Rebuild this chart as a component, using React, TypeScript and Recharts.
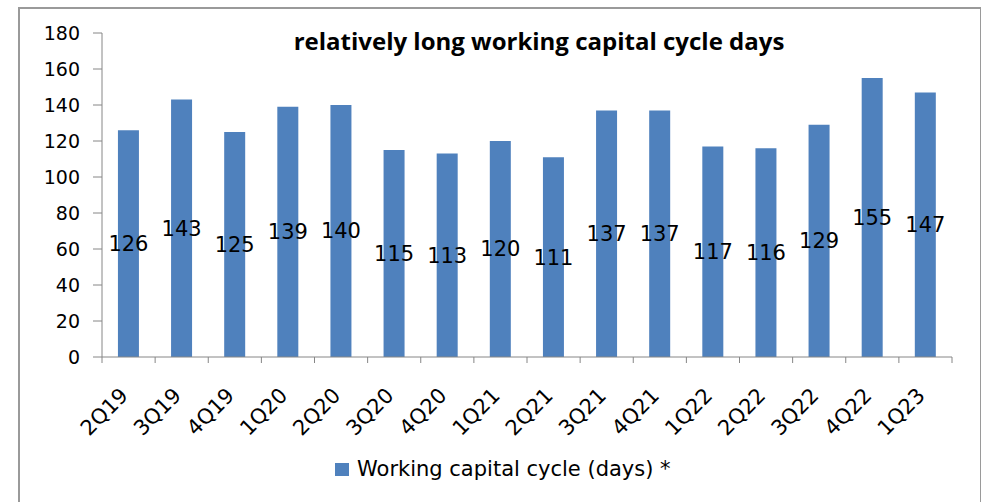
import React from 'react'
import { BarChart, Bar, XAxis, YAxis, Legend, LabelList } from 'recharts'

const quarters = ['2Q19', '3Q19', '4Q19', '1Q20', '2Q20', '3Q20', '4Q20', '1Q21', '2Q21', '3Q21', '4Q21', '1Q22', '2Q22', '3Q22', '4Q22', '1Q23']
const cycleDays = [126, 143, 125, 139, 140, 115, 113, 120, 111, 137, 137, 117, 116, 129, 155, 147]
const yTicks = [0, 20, 40, 60, 80, 100, 120, 140, 160, 180]
const seriesName = 'Working capital cycle (days) *'
const title = 'relatively long working capital cycle days'

const data = quarters.map((q, i) => ({ name: q, value: cycleDays[i] }))

const W = 981
const H = 502
const margin = { top: 33, right: 29, bottom: 18, left: 0 }
const axisW = 102
const half = (W - axisW - margin.right) / quarters.length / 2
const axisColor = '#868686'
const barColor = '#4F81BD'
const font = 'DejaVu Sans, sans-serif'

function XTick(props: any) {
  const { x, y, payload, index } = props
  const ay = y - 8
  const tx = x - 10
  const ty = y + 21
  return (
    <g>
      <line x1={x - half} y1={ay} x2={x - half} y2={ay + 6} stroke={axisColor} />
      {index === quarters.length - 1 && (
        <line x1={x + half} y1={ay} x2={x + half} y2={ay + 6} stroke={axisColor} />
      )}
      <text
        x={tx}
        y={ty}
        textAnchor="end"
        dominantBaseline="hanging"
        transform={`rotate(-45 ${tx} ${ty})`}
        fontSize={21}
        fontFamily={font}
        fill="#000"
      >
        {payload.value}
      </text>
    </g>
  )
}

function LegendBox() {
  return (
    <div style={{ display: 'flex', alignItems: 'center', marginLeft: 335, fontFamily: font, fontSize: 21, color: '#000', height: 30 }}>
      <span style={{ width: 14, height: 13, background: barColor, display: 'inline-block', marginRight: 8 }} />
      <span>{seriesName}</span>
    </div>
  )
}

export default function App() {
  return (
    <div style={{ position: 'absolute', left: 0, top: 0, width: W, height: H, background: '#fff', overflow: 'hidden' }}>
      <div style={{ position: 'absolute', left: 18, top: 7, width: 960, height: 520, border: '2px solid #9a9a9a' }} />
      <div style={{ position: 'absolute', left: 0, top: 0 }}>
        <BarChart width={W} height={H} data={data} margin={margin} barCategoryGap="30%">
          <text x={539} y={44} textAnchor="middle" dominantBaseline="middle" fontFamily="Open Sans, sans-serif" fontWeight="bold" fontSize={24} fill="#000">
            {title}
          </text>
          <YAxis
            width={axisW}
            domain={[0, 180]}
            ticks={yTicks}
            interval={0}
            axisLine={{ stroke: axisColor }}
            tickLine={{ stroke: axisColor }}
            tickSize={9}
            tickMargin={13}
            tick={{ fill: '#000', fontSize: 19, fontFamily: font }}
          />
          <XAxis
            dataKey="name"
            interval={0}
            height={97}
            axisLine={{ stroke: axisColor }}
            tickLine={false}
            tickSize={6}
            tickMargin={2}
            tick={<XTick />}
          />
          <Legend verticalAlign="bottom" align="left" height={30} content={<LegendBox />} />
          <Bar dataKey="value" name={seriesName} fill={barColor} isAnimationActive={false}>
            <LabelList dataKey="value" position="center" fill="#000" fontSize={21} fontFamily={font} />
          </Bar>
        </BarChart>
      </div>
    </div>
  )
}
